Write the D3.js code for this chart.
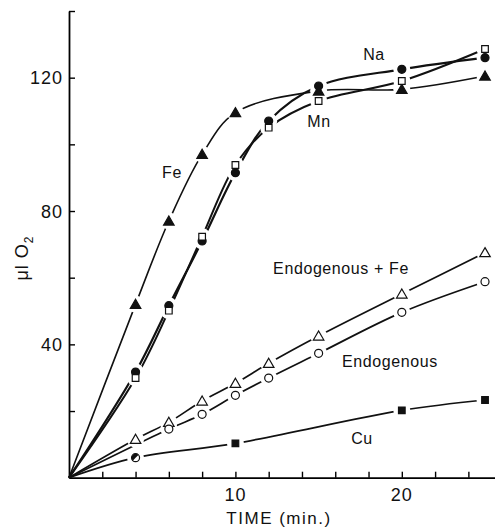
<!DOCTYPE html>
<html>
<head>
<meta charset="utf-8">
<script src="https://cdn.jsdelivr.net/npm/d3@7"></script>
<style>
  body { margin: 0; background: #fff; }
  text { font-family: "Liberation Sans", Arial, sans-serif; fill: #111; }
</style>
</head>
<body>
<svg id="chart" width="495" height="527"></svg>
<script>
// data (TIME in min, ul O2)
let feTime = [4, 6, 8, 10, 15, 20, 25];
let feVals = [52, 77, 97, 109.5, 116, 116.5, 120.5];
let naTime = [4, 6, 8, 10, 12, 15, 20, 25];
let naVals = [31.7, 51.6, 71, 91.5, 107, 117.5, 122.5, 126];
let mnTime = [4, 6, 8, 10, 12, 15, 20, 25];
let mnVals = [29.9, 50.1, 72.3, 93.8, 105, 113, 119, 128.6];
let endoFeTime = [4, 6, 8, 10, 12, 15, 20, 25];
let endoFeVals = [11.5, 16.6, 23, 28.3, 34.3, 42.5, 55.1, 67.5];
let endoTime = [6, 8, 10, 12, 15, 20, 25];
let endoVals = [14.6, 19, 24.7, 29.9, 37.3, 49.6, 58.8];
let cuTime = [4, 10, 20, 25];
let cuVals = [6, 10.3, 20.2, 23.3];

let xTicks = [2, 4, 6, 8, 10, 12, 14, 16, 18, 20, 22, 24];
let xLabels = [10, 20];
let yTicks = [20, 40, 60, 80, 100, 120, 140];
let yLabels = [40, 80, 120];

let svg = d3.select("#chart");

let x = d3.scaleLinear().domain([0, 25.6]).range([69, 495]);
let y = d3.scaleLinear().domain([0, 140]).range([477.7, 11]);

// axes, ticks pointing inward
svg.append("g")
    .attr("transform", "translate(0,477.7)")
    .call(d3.axisBottom(x).tickValues(xTicks).tickSizeInner(-6).tickSizeOuter(0).tickFormat(""))
    .call(g => g.select(".domain").attr("stroke-width", 1.8))
    .call(g => g.selectAll(".tick line").attr("stroke-width", 1.4));

svg.append("g")
    .attr("transform", "translate(69,0)")
    .call(d3.axisLeft(y).tickValues(yTicks).tickSizeInner(-6).tickSizeOuter(0).tickFormat(""))
    .call(g => g.select(".domain").attr("stroke-width", 1.8))
    .call(g => g.selectAll(".tick line").attr("stroke-width", 1.4));

svg.selectAll(".xlab")
    .data(xLabels)
    .enter()
    .append("text")
    .attr("x", d => x(d))
    .attr("y", 501)
    .attr("text-anchor", "middle")
    .attr("font-size", "18px")
    .attr("letter-spacing", "1px")
    .text(d => d);

svg.selectAll(".ylab")
    .data(yLabels)
    .enter()
    .append("text")
    .attr("x", 63)
    .attr("y", d => y(d) + 6.5)
    .attr("text-anchor", "end")
    .attr("font-size", "18px")
    .attr("letter-spacing", "1px")
    .text(d => d);

svg.append("text")
    .attr("x", 279)
    .attr("y", 524)
    .attr("text-anchor", "middle")
    .attr("font-size", "17px")
    .attr("letter-spacing", "1.5px")
    .text("TIME (min.)");

svg.append("text")
    .attr("transform", "translate(28,258) rotate(-90)")
    .attr("text-anchor", "middle")
    .attr("font-size", "18px")
    .attr("letter-spacing", "1px")
    .html('\u03bcl O<tspan font-size="12px" dy="5">2</tspan>');

// curves from the origin through each series
let series = [
    {name: "fe", t: feTime, v: feVals, w: 1.6, marker: "triFill"},
    {name: "na", t: naTime, v: naVals, w: 2.2, marker: "circFill"},
    {name: "mn", t: mnTime, v: mnVals, w: 2.0, marker: "sqOpen"},
    {name: "endoFe", t: endoFeTime, v: endoFeVals, w: 1.7, marker: "triOpen"},
    {name: "endo", t: endoTime, v: endoVals, w: 1.7, marker: "circOpen"},
    {name: "cu", t: cuTime, v: cuVals, w: 1.7, marker: "sqFill"}
];

let line = d3.line()
    .x(d => x(d[0]))
    .y(d => y(d[1]))
    .curve(d3.curveCatmullRom.alpha(0.5));

series.forEach(function(s){
    let pts = [[0, 0]].concat(s.t.map((t, i) => [t, s.v[i]]));
    svg.append("path")
        .attr("d", line(pts))
        .attr("fill", "none")
        .attr("stroke", "#111")
        .attr("stroke-width", s.w);
});

// white gaps around markers
series.forEach(function(s){
    svg.selectAll(".gap-" + s.name)
        .data(s.t.map((t, i) => [t, s.v[i]]))
        .enter()
        .append("circle")
        .attr("cx", d => x(d[0]))
        .attr("cy", d => y(d[1]))
        .attr("r", 8.5)
        .attr("fill", "#fff");
});

let tri = d3.symbol().type(d3.symbolTriangle).size(48);
let sq = d3.symbol().type(d3.symbolSquare).size(44);

series.forEach(function(s){
    let pts = s.t.map((t, i) => [t, s.v[i]]);
    let g = svg.append("g");
    pts.forEach(function(d, i){
        let cx = x(d[0]), cy = y(d[1]);
        if (s.name == "cu" && i == 0) {
            // half filled circle
            g.append("circle").attr("cx", cx).attr("cy", cy).attr("r", 4)
                .attr("fill", "#fff").attr("stroke", "#111").attr("stroke-width", 1.2);
            g.append("path")
                .attr("d", d3.arc()({innerRadius: 0, outerRadius: 4, startAngle: -2.4, endAngle: 0.8}))
                .attr("transform", `translate(${cx},${cy})`)
                .attr("fill", "#111");
            return;
        }
        if (s.marker == "triFill" || s.marker == "triOpen") {
            g.append("path").attr("d", tri())
                .attr("transform", `translate(${cx},${cy + 1})`)
                .attr("fill", s.marker == "triFill" ? "#111" : "#fff")
                .attr("stroke", "#111").attr("stroke-width", 1.2);
        } else if (s.marker == "sqFill" || s.marker == "sqOpen") {
            g.append("path").attr("d", sq())
                .attr("transform", `translate(${cx},${cy})`)
                .attr("fill", s.marker == "sqFill" ? "#111" : "#fff")
                .attr("stroke", "#111").attr("stroke-width", 1.2);
        } else {
            g.append("circle").attr("cx", cx).attr("cy", cy).attr("r", 4)
                .attr("fill", s.marker == "circFill" ? "#111" : "#fff")
                .attr("stroke", "#111").attr("stroke-width", 1.2);
        }
    });
});

// series labels
let seriesLabels = [
    {text: "Na", x: 374, y: 60},
    {text: "Mn", x: 319, y: 127},
    {text: "Fe", x: 172, y: 178},
    {text: "Endogenous + Fe", x: 341, y: 274},
    {text: "Endogenous", x: 390, y: 367},
    {text: "Cu", x: 362, y: 444}
];
svg.selectAll(".slab")
    .data(seriesLabels)
    .enter()
    .append("text")
    .attr("x", d => d.x)
    .attr("y", d => d.y)
    .attr("text-anchor", "middle")
    .attr("font-size", "16px")
    .attr("letter-spacing", "0.6px")
    .text(d => d.text);
</script>
</body>
</html>
